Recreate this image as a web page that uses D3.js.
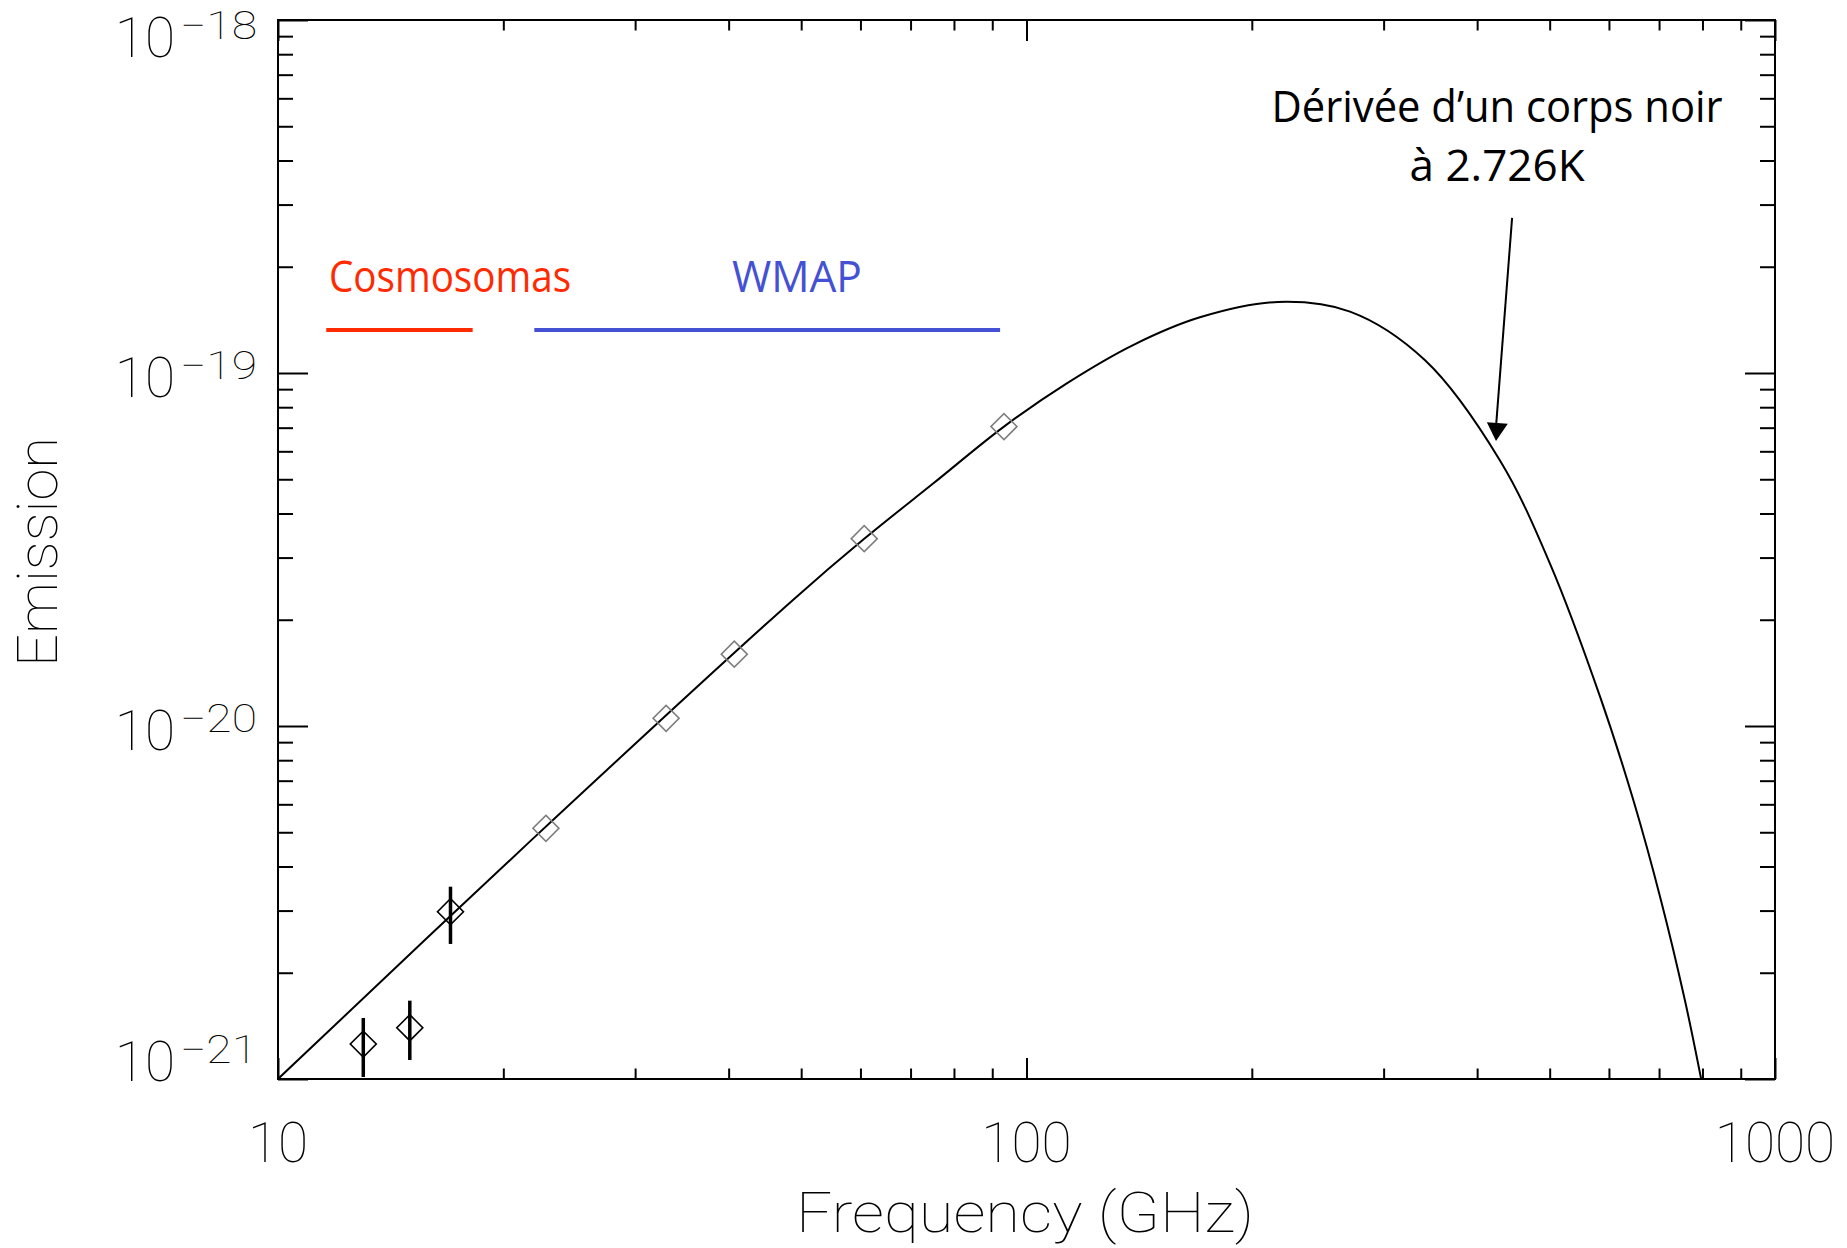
<!DOCTYPE html>
<html>
<head>
<meta charset="utf-8">
<script src="https://cdn.jsdelivr.net/npm/d3@7"></script>
<style>
  body { margin: 0; background: #fff; }
  .tick-label { font-family: Roboto, "Open Sans", sans-serif; font-weight: 100; fill: #000; }
  .note { font-family: "Open Sans", Lato, sans-serif; }
</style>
</head>
<body>
<svg id="chart"></svg>
<script>
(function() {

  // blackbody derivative curve
  const curveFreq = [10, 21.8, 48.8, 60.7, 75.1, 93.3, 113.2, 138.8, 170.5, 216.8, 270.5, 340.8,
    429.1, 500.6, 583.8, 646.7, 704.1, 757.8, 796.8];
  const curveEmission = [1.0e-21, 4.75e-21, 2.28e-20, 3.39e-20, 4.87e-20, 7.05e-20, 9.35e-20, 1.20e-19,
    1.438e-19, 1.589e-19, 1.492e-19, 1.086e-19, 5.65e-20, 2.88e-20, 1.211e-20, 6.17e-21, 3.21e-21,
    1.674e-21, 1.0e-21];

  // COSMOSOMAS points with error bars
  const cosmoFreq = [13, 15, 17];
  const cosmoEmission = [1.256e-21, 1.397e-21, 2.978e-21];
  const cosmoLow = [1.013e-21, 1.132e-21, 2.413e-21];
  const cosmoHigh = [1.489e-21, 1.667e-21, 3.506e-21];

  // WMAP points
  const wmapFreq = [22.8, 33, 40.7, 60.7, 93.3];
  const wmapEmission = [5.13e-21, 1.051e-20, 1.597e-20, 3.393e-20, 7.05e-20];

  // frequency coverage of each experiment
  const bandNames = ['Cosmosomas', 'WMAP'];
  const bandStart = [11.6, 22.0];
  const bandEnd = [18.2, 92.2];

  const xTicks = [10, 100, 1000];
  const yTicks = [1e-21, 1e-20, 1e-19, 1e-18];

  const bandColors = ['#ff2a00', '#4451d4'];

  const width = 1847;
  const height = 1248;
  const margin = { left: 278, right: 72, top: 20, bottom: 169 };
  const innerWidth = width - margin.left - margin.right;
  const innerHeight = height - margin.top - margin.bottom;
  const majorX = 21, majorY = 30;

  const svg = d3.select('#chart')
    .attr('width', width)
    .attr('height', height);

  const x = d3.scaleLog().domain([10, 1000]).range([margin.left, margin.left + innerWidth]);
  const y = d3.scaleLog().domain([1e-21, 1e-18]).range([margin.top + innerHeight, margin.top]);

  const xMinor = [];
  [10, 100].forEach(function(d) { for (let k = 2; k <= 9; k++) xMinor.push(d * k); });
  const yMinor = [];
  [1e-21, 1e-20, 1e-19].forEach(function(d) { for (let k = 2; k <= 9; k++) yMinor.push(d * k); });

  svg.append('defs').append('clipPath').attr('id', 'plot-clip')
    .append('rect')
    .attr('x', margin.left).attr('y', margin.top)
    .attr('width', innerWidth).attr('height', innerHeight);

  // axes: ticks on all four sides, pointing inward
  function drawAxis(axis, tx, ty) {
    const g = svg.append('g')
      .attr('transform', 'translate(' + tx + ',' + ty + ')')
      .call(axis);
    g.select('.domain').remove();
    g.selectAll('line').attr('stroke', '#000').attr('stroke-width', 2);
    g.selectAll('text').remove();
  }
  const bottomY = margin.top + innerHeight, rightX = margin.left + innerWidth;

  drawAxis(d3.axisBottom(x).tickValues(xTicks).tickSize(-majorX), 0, bottomY);
  drawAxis(d3.axisBottom(x).tickValues(xMinor).tickSize(-majorX / 2), 0, bottomY);
  drawAxis(d3.axisTop(x).tickValues(xTicks).tickSize(-majorX), 0, margin.top);
  drawAxis(d3.axisTop(x).tickValues(xMinor).tickSize(-majorX / 2), 0, margin.top);
  drawAxis(d3.axisLeft(y).tickValues(yTicks).tickSize(-majorY), margin.left, 0);
  drawAxis(d3.axisLeft(y).tickValues(yMinor).tickSize(-majorY / 2), margin.left, 0);
  drawAxis(d3.axisRight(y).tickValues(yTicks).tickSize(-majorY), rightX, 0);
  drawAxis(d3.axisRight(y).tickValues(yMinor).tickSize(-majorY / 2), rightX, 0);

  svg.append('rect')
    .attr('x', margin.left).attr('y', margin.top)
    .attr('width', innerWidth).attr('height', innerHeight)
    .attr('fill', 'none').attr('stroke', '#000').attr('stroke-width', 2);

  // tick labels
  svg.selectAll('text.xlab')
    .data(xTicks)
    .enter().append('text')
    .attr('class', 'tick-label xlab')
    .attr('x', function(d) { return x(d); })
    .attr('y', bottomY + 83)
    .attr('text-anchor', 'middle')
    .style('font-size', '55px')
    .text(function(d) { return d; });

  const labelBase = function(d) {
    return Math.max(margin.top + 37, Math.min(bottomY + 2, y(d) + 24));
  };
  svg.selectAll('text.ylab')
    .data(yTicks)
    .enter().append('text')
    .attr('class', 'tick-label ylab')
    .attr('x', margin.left - 103)
    .attr('y', labelBase)
    .attr('text-anchor', 'end')
    .style('font-size', '55px')
    .text('10');

  svg.selectAll('text.yexp')
    .data(yTicks)
    .enter().append('text')
    .attr('class', 'tick-label yexp')
    .attr('x', margin.left - 98)
    .attr('y', function(d) { return labelBase(d) - 18; })
    .attr('textLength', 77)
    .attr('lengthAdjust', 'spacingAndGlyphs')
    .style('font-size', '38px')
    .text(function(d) { return '\u2212' + Math.round(-Math.log10(d)); });

  // axis titles
  svg.append('text')
    .attr('class', 'tick-label')
    .attr('x', 1025).attr('y', 1232)
    .attr('text-anchor', 'middle')
    .attr('textLength', 458)
    .attr('lengthAdjust', 'spacingAndGlyphs')
    .style('font-size', '55px')
    .text('Frequency (GHz)');

  svg.append('text')
    .attr('class', 'tick-label')
    .attr('transform', 'translate(57,552) rotate(-90)')
    .attr('text-anchor', 'middle')
    .attr('textLength', 230)
    .attr('lengthAdjust', 'spacingAndGlyphs')
    .style('font-size', '55px')
    .text('Emission');

  const plot = svg.append('g').attr('clip-path', 'url(#plot-clip)');

  // curve
  const curvePoints = curveFreq.map(function(f, i) { return [f, curveEmission[i]]; });
  const line = d3.line()
    .x(function(d) { return x(d[0]); })
    .y(function(d) { return y(d[1]); })
    .curve(d3.curveCatmullRom.alpha(0.5));

  plot.append('path')
    .datum(curvePoints)
    .attr('d', line)
    .attr('fill', 'none')
    .attr('stroke', '#000')
    .attr('stroke-width', 2);

  const diamond = d3.symbol().type(d3.symbolSquare).size(13 * 13 * 2);

  // WMAP diamonds (grey)
  plot.selectAll('path.wmap')
    .data(wmapFreq)
    .enter().append('path')
    .attr('class', 'wmap')
    .attr('d', diamond)
    .attr('transform', function(d, i) {
      return 'translate(' + x(d) + ',' + y(wmapEmission[i]) + ') rotate(45)';
    })
    .attr('fill', 'none')
    .attr('stroke', '#7d7d7d')
    .attr('stroke-width', 1.6);

  // COSMOSOMAS error bars and diamonds
  plot.selectAll('line.err')
    .data(cosmoFreq)
    .enter().append('line')
    .attr('class', 'err')
    .attr('x1', function(d) { return x(d); })
    .attr('x2', function(d) { return x(d); })
    .attr('y1', function(d, i) { return y(cosmoLow[i]); })
    .attr('y2', function(d, i) { return y(cosmoHigh[i]); })
    .attr('stroke', '#000')
    .attr('stroke-width', 3.5);

  plot.selectAll('path.cosmo')
    .data(cosmoFreq)
    .enter().append('path')
    .attr('class', 'cosmo')
    .attr('d', diamond)
    .attr('transform', function(d, i) {
      return 'translate(' + x(d) + ',' + y(cosmoEmission[i]) + ') rotate(45)';
    })
    .attr('fill', 'none')
    .attr('stroke', '#000')
    .attr('stroke-width', 1.6);

  // experiment bands
  const bandY = 1.324e-19;
  svg.selectAll('line.band')
    .data(bandNames)
    .enter().append('line')
    .attr('class', 'band')
    .attr('x1', function(d, i) { return x(bandStart[i]); })
    .attr('x2', function(d, i) { return x(bandEnd[i]); })
    .attr('y1', y(bandY)).attr('y2', y(bandY))
    .attr('stroke', function(d, i) { return bandColors[i]; })
    .attr('stroke-width', 4);

  const bandLabelX = [11.7, 40.4];
  const bandLabelLen = [242, 130];
  svg.selectAll('text.band')
    .data(bandNames)
    .enter().append('text')
    .attr('class', 'note band')
    .attr('x', function(d, i) { return x(bandLabelX[i]); })
    .attr('y', y(1.697e-19))
    .attr('textLength', function(d, i) { return bandLabelLen[i]; })
    .attr('lengthAdjust', 'spacingAndGlyphs')
    .style('font-size', '44px')
    .attr('fill', function(d, i) { return bandColors[i]; })
    .text(function(d) { return d; });

  // annotation with arrow
  const noteX = x(425.3);
  svg.append('text')
    .attr('class', 'note')
    .attr('x', noteX).attr('y', 122)
    .attr('text-anchor', 'middle')
    .attr('textLength', 451)
    .attr('lengthAdjust', 'spacingAndGlyphs')
    .style('font-size', '44px')
    .text('D\u00e9riv\u00e9e d\u2019un corps noir');
  svg.append('text')
    .attr('class', 'note')
    .attr('x', noteX).attr('y', 181)
    .attr('text-anchor', 'middle')
    .attr('textLength', 175)
    .attr('lengthAdjust', 'spacingAndGlyphs')
    .style('font-size', '44px')
    .text('\u00e0 2.726K');

  const arrowFrom = [x(445.4), y(2.75e-19)];
  const arrowTo = [x(423.9), y(6.42e-20)];
  svg.append('line')
    .attr('x1', arrowFrom[0]).attr('y1', arrowFrom[1])
    .attr('x2', arrowTo[0]).attr('y2', arrowTo[1] - 14)
    .attr('stroke', '#000')
    .attr('stroke-width', 2);
  const ang = Math.atan2(arrowTo[1] - arrowFrom[1], arrowTo[0] - arrowFrom[0]) * 180 / Math.PI;
  svg.append('path')
    .attr('d', 'M0,0 L-18,-10.5 L-18,10.5 Z')
    .attr('transform', 'translate(' + arrowTo[0] + ',' + arrowTo[1] + ') rotate(' + ang + ')')
    .attr('fill', '#000');

})();
</script>
</body>
</html>
